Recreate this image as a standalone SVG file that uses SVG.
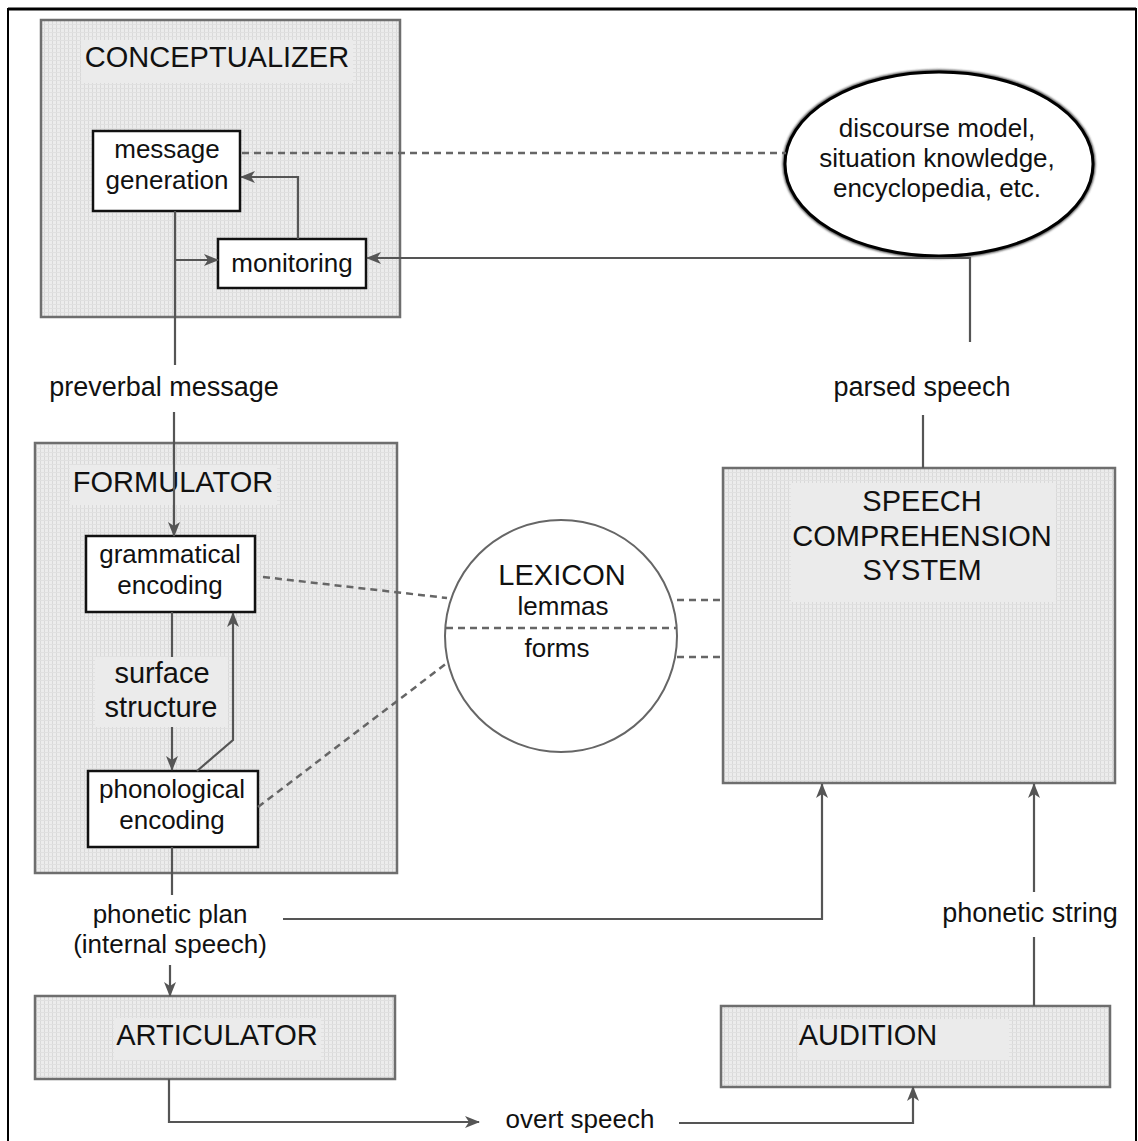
<svg xmlns="http://www.w3.org/2000/svg" width="1138" height="1141" viewBox="0 0 1138 1141">
<style>
text{font-family:"Liberation Sans",Arial,sans-serif;fill:#111;text-anchor:middle}
.t{font-size:29px}
.s{font-size:26px}
.l{font-size:27px}
.box{fill:url(#tex);stroke:#6e6e6e;stroke-width:2.5}
.lbl{fill:#ebebeb}
.wb{fill:#fff;stroke:#111;stroke-width:2.5}
.ln{fill:none;stroke:#555;stroke-width:2.2}
.ds{fill:none;stroke:#666;stroke-width:2.5;stroke-dasharray:7 5}
.wh{fill:#fff}
</style>
<defs>
<pattern id="tex" width="4" height="4" patternUnits="userSpaceOnUse">
<rect width="4" height="4" fill="#ececec"/>
<rect width="1" height="4" fill="#d9d9d9"/>
<rect width="4" height="1" fill="#e0e0e0"/>
</pattern>
<marker id="ar" viewBox="0 0 15 12" refX="14" refY="6" markerWidth="15" markerHeight="12" markerUnits="userSpaceOnUse" orient="auto">
<path d="M0,0 L15,6 L0,12 L4,6 z" fill="#555"/>
</marker>
<filter id="sh" x="-10%" y="-10%" width="120%" height="120%">
<feGaussianBlur stdDeviation="1.2"/>
</filter>
</defs>
<rect width="1138" height="1141" fill="#fff"/>
<path d="M8,1141 V9 H1136 V1141" fill="none" stroke="#000" stroke-width="2"/>
<path d="M8,9 H1136" stroke="#000" stroke-width="3"/>

<g id="conceptualizer">
<rect class="box" x="41" y="20" width="359" height="297"/>
<rect class="lbl" x="81" y="40" width="272" height="43"/>
<text class="t" x="217" y="67">CONCEPTUALIZER</text>
</g>
<g id="message-generation">
<rect class="wb" x="93" y="131" width="147" height="80"/>
<text class="s" x="167" y="158">message</text>
<text class="s" x="167" y="189">generation</text>
</g>
<g id="monitoring">
<rect class="wb" x="218" y="239" width="148" height="49"/>
<text class="s" x="292" y="272">monitoring</text>
</g>
<g id="world-knowledge">
<ellipse cx="939" cy="164" rx="154" ry="92" fill="none" stroke="#444" stroke-width="5" filter="url(#sh)"/>
<ellipse cx="939" cy="164" rx="154" ry="92" fill="#fff" stroke="#000" stroke-width="3"/>
<text class="s" x="937" y="137">discourse model,</text>
<text class="s" x="937" y="167">situation knowledge,</text>
<text class="s" x="937" y="197">encyclopedia, etc.</text>
</g>
<g id="formulator">
<rect class="box" x="35" y="443" width="362" height="430"/>
<rect class="lbl" x="70" y="465" width="207" height="40"/>
<text class="t" x="173" y="492">FORMULATOR</text>
<rect class="lbl" x="95" y="657" width="133" height="70"/>
<text class="t" x="162" y="683">surface</text>
<text class="t" x="161" y="717">structure</text>
</g>
<g id="grammatical-encoding">
<rect class="wb" x="86" y="536" width="169" height="76"/>
<text class="s" x="170" y="563">grammatical</text>
<text class="s" x="170" y="594">encoding</text>
</g>
<g id="phonological-encoding">
<rect class="wb" x="88" y="771" width="170" height="76"/>
<text class="s" x="172" y="798">phonological</text>
<text class="s" x="172" y="829">encoding</text>
</g>
<g id="lexicon">
<circle cx="561" cy="636" r="116" fill="#fff" stroke="#666" stroke-width="2"/>
<path class="ds" d="M446,628 H676"/>
<text class="t" x="562" y="585">LEXICON</text>
<rect class="wh" x="512" y="595" width="103" height="25"/>
<text class="s" x="563" y="615">lemmas</text>
<text class="s" x="557" y="657">forms</text>
</g>
<g id="speech-comprehension">
<rect class="box" x="723" y="468" width="392" height="315"/>
<rect class="lbl" x="791" y="483" width="265" height="119"/>
<text class="t" x="922" y="511">SPEECH</text>
<text class="t" x="922" y="546">COMPREHENSION</text>
<text class="t" x="922" y="580">SYSTEM</text>
</g>
<g id="articulator">
<rect class="box" x="35" y="996" width="360" height="83"/>
<rect class="lbl" x="114" y="1018" width="207" height="42"/>
<text class="t" x="217" y="1045">ARTICULATOR</text>
</g>
<g id="audition">
<rect class="box" x="721" y="1006" width="389" height="81"/>
<rect class="lbl" x="798" y="1019" width="211" height="41"/>
<text class="t" x="868" y="1045">AUDITION</text>
</g>

<g id="connectors">
<path class="ln" d="M175,211 V365"/>
<path class="ln" d="M175,260 H218" marker-end="url(#ar)"/>
<path class="ln" d="M298,239 V177 H241" marker-end="url(#ar)"/>
<path class="ds" d="M242,153 H786"/>
<path class="ln" d="M970,342 V258 H367" marker-end="url(#ar)"/>
<path class="ln" d="M923,415 V468"/>
<path class="ln" d="M174,412 V536" marker-end="url(#ar)"/>
<path class="ln" d="M172,612 V657"/>
<path class="ln" d="M172,727 V770" marker-end="url(#ar)"/>
<path class="ln" d="M197,771 L233,740 V613" marker-end="url(#ar)"/>
<path class="ds" d="M263,577 L447,598"/>
<path class="ds" d="M258,807 L447,663"/>
<path class="ds" d="M677,600 H723"/>
<path class="ds" d="M677,657 H723"/>
<path class="ln" d="M172,847 V895"/>
<path class="ln" d="M283,919 H822 V784" marker-end="url(#ar)"/>
<path class="ln" d="M170,965 V996" marker-end="url(#ar)"/>
<path class="ln" d="M169,1079 V1122 H479" marker-end="url(#ar)"/>
<path class="ln" d="M679,1123 H913 V1087" marker-end="url(#ar)"/>
<path class="ln" d="M1034,1006 V937"/>
<path class="ln" d="M1034,892 V784" marker-end="url(#ar)"/>
<text class="l" x="164" y="396" font-size="29">preverbal message</text>
<text class="l" x="922" y="396">parsed speech</text>
<text class="s" x="170" y="923">phonetic plan</text>
<text class="s" x="170" y="953">(internal speech)</text>
<text class="l" x="1030" y="922">phonetic string</text>
<text class="s" x="580" y="1128">overt speech</text>
</g>
</svg>
